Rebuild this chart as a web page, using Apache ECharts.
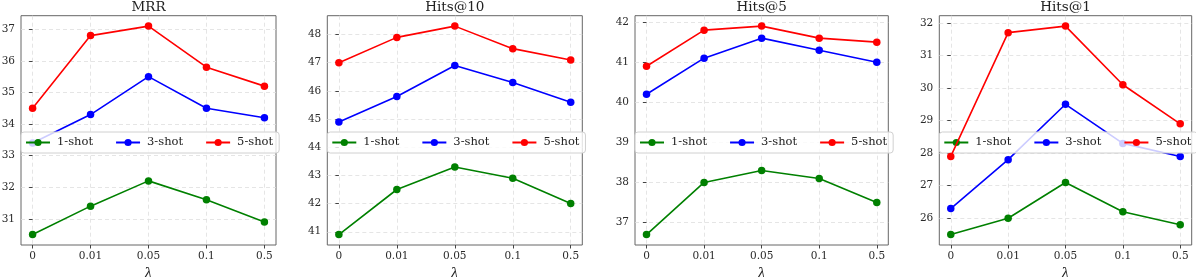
<!DOCTYPE html>
<html>
<head>
<meta charset="utf-8">
<script src="https://cdn.jsdelivr.net/npm/echarts@6/dist/echarts.min.js"></script>
<style>html,body{margin:0;padding:0;background:#fff}#c{width:1196px;height:277px}</style>
</head>
<body>
<div id="c"></div>
<script>
const categories = ['0', '0.01', '0.05', '0.1', '0.5'];
const metrics = ['MRR', 'Hits@10', 'Hits@5', 'Hits@1'];
const seriesNames = ['1-shot', '3-shot', '5-shot'];
const colors = ['#008000', '#0000ff', '#ff0000'];

const mrr1 = [30.5, 31.4, 32.2, 31.6, 30.9];
const mrr3 = [33.4, 34.3, 35.5, 34.5, 34.2];
const mrr5 = [34.5, 36.8, 37.1, 35.8, 35.2];
const h10_1 = [40.9, 42.5, 43.3, 42.9, 42.0];
const h10_3 = [44.9, 45.8, 46.9, 46.3, 45.6];
const h10_5 = [47.0, 47.9, 48.3, 47.5, 47.1];
const h5_1 = [36.7, 38.0, 38.3, 38.1, 37.5];
const h5_3 = [40.2, 41.1, 41.6, 41.3, 41.0];
const h5_5 = [40.9, 41.8, 41.9, 41.6, 41.5];
const h1_1 = [25.5, 26.0, 27.1, 26.2, 25.8];
const h1_3 = [26.3, 27.8, 29.5, 28.3, 27.9];
const h1_5 = [27.9, 31.7, 31.9, 30.1, 28.9];

const panels = [[mrr1, mrr3, mrr5], [h10_1, h10_3, h10_5], [h5_1, h5_3, h5_5], [h1_1, h1_3, h1_5]];

const FONT = 'DejaVu Serif';
const grids = [
  {left: 21, top: 15.7, width: 255, height: 229.3},
  {left: 327.3, top: 15.7, width: 255, height: 229.3},
  {left: 635, top: 15.7, width: 253.3, height: 229.3},
  {left: 939.3, top: 15.7, width: 252.4, height: 229.3}
];

const option = {
  animation: false,
  backgroundColor: '#fff',
  grid: grids.map(g => Object.assign({show: true, borderColor: '#666', borderWidth: 1, backgroundColor: 'transparent', containLabel: false, outerBoundsMode: 'none'}, g)),
  title: metrics.map((m, i) => ({
    text: m,
    left: grids[i].left + grids[i].width / 2,
    top: 0.5,
    padding: 0,
    textAlign: 'center',
    textStyle: {fontFamily: FONT, fontSize: 13.5, fontWeight: 'normal', color: '#222'}
  })),
  legend: grids.map((g, i) => ({
    left: g.left,
    top: 132,
    width: 320,
    orient: 'horizontal',
    padding: [3.5, 6, 3.5, 4],
    itemGap: 22,
    itemWidth: 24,
    itemHeight: 9,
    backgroundColor: 'rgba(255,255,255,0.8)',
    borderColor: '#d0d0d0',
    borderWidth: 1,
    borderRadius: 3,
    data: seriesNames,
    textStyle: {fontFamily: FONT, fontSize: 11.5, color: '#222', lineHeight: 14, padding: [0, 0, 0, 2]}
  })),
  xAxis: grids.map((g, i) => ({
    type: 'value',
    gridIndex: i,
    min: -0.2,
    max: categories.length - 1 + 0.2,
    name: 'λ',
    nameLocation: 'middle',
    nameGap: 12,
    nameTextStyle: {fontFamily: FONT, fontSize: 14, fontStyle: 'italic', color: '#222'},
    axisLine: {show: false},
    axisTick: {show: true, length: 3.5, lineStyle: {color: '#444'}, customValues: categories.map((c, k) => k)},
    axisLabel: {customValues: categories.map((c, k) => k), formatter: v => categories[v], fontFamily: FONT, fontSize: 10.5, color: '#2a2a2a', margin: 6},
    splitLine: {show: true, lineStyle: {color: '#dedede', type: [4, 3], width: 0.8}}
  })),
  yAxis: panels.map((p, i) => {
    const all = p.flat();
    const lo = Math.min(...all), hi = Math.max(...all);
    const pad = 0.05 * (hi - lo);
    const ticks = [];
    for (let t = Math.ceil(lo - pad); t <= Math.floor(hi + pad); t++) ticks.push(t);
    return {
      type: 'value',
      gridIndex: i,
      min: lo - pad,
      max: hi + pad,
      axisLine: {show: false},
      axisTick: {show: true, length: 3.5, lineStyle: {color: '#444'}, customValues: ticks},
      axisLabel: {customValues: ticks, fontFamily: FONT, fontSize: 10.5, color: '#2a2a2a', margin: 6},
      splitLine: {show: true, lineStyle: {color: '#dedede', type: [4, 3], width: 0.8}}
    };
  }),
  series: []
};

panels.forEach((p, i) => {
  p.forEach((vals, s) => {
    option.series.push({
      type: 'line',
      name: seriesNames[s],
      xAxisIndex: i,
      yAxisIndex: i,
      data: vals.map((v, k) => [k, v]),
      symbol: 'circle',
      symbolSize: 7.5,
      color: colors[s],
      lineStyle: {width: 1.6, color: colors[s]},
      itemStyle: {color: colors[s]},
      z: 2 + s
    });
  });
});

const chart = echarts.init(document.getElementById('c'), null, {renderer: 'canvas'});
chart.setOption(option);
</script>
</body>
</html>
